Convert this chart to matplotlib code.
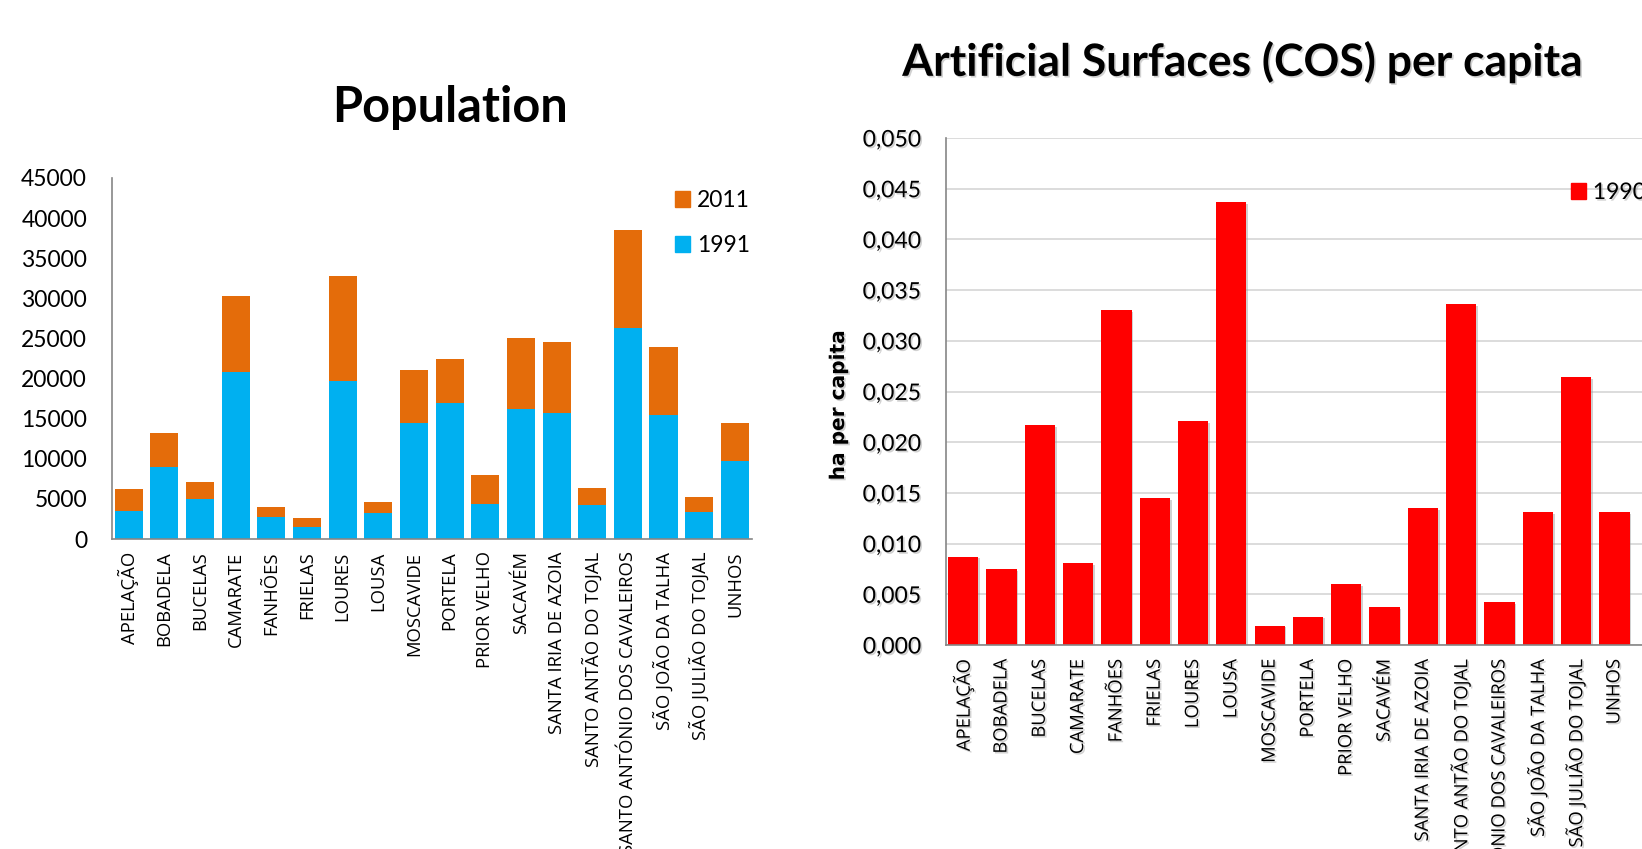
import numpy as np
import matplotlib
matplotlib.use("Agg")
import matplotlib.pyplot as plt
import matplotlib.patheffects as pe
from matplotlib.patches import Patch
from matplotlib.ticker import FuncFormatter

parishes = [
    "APELAÇÃO", "BOBADELA", "BUCELAS", "CAMARATE", "FANHÕES", "FRIELAS",
    "LOURES", "LOUSA", "MOSCAVIDE", "PORTELA", "PRIOR VELHO", "SACAVÉM",
    "SANTA IRIA DE AZOIA", "SANTO ANTÃO DO TOJAL",
    "SANTO ANTÓNIO DOS CAVALEIROS", "SÃO JOÃO DA TALHA",
    "SÃO JULIÃO DO TOJAL", "UNHOS",
]

# population, stacked: 1991 at the bottom, 2011 on top
pop_1991 = [3450, 9000, 4950, 20850, 2700, 1550, 19650, 3200, 14450,
            16900, 4350, 16250, 15650, 4250, 26250, 15500, 3400, 9750]
pop_2011 = [2750, 4200, 2200, 9450, 1350, 1100, 13100, 1450, 6600,
            5500, 3600, 8750, 8850, 2050, 12300, 8400, 1850, 4750]

# artificial surfaces (COS 1990), ha per capita
cos_1990 = [0.0087, 0.0075, 0.0217, 0.0081, 0.0330, 0.0145, 0.0221,
            0.0437, 0.0019, 0.0028, 0.0060, 0.0037, 0.0135, 0.0336,
            0.0042, 0.0131, 0.0264, 0.0131]

pop_ticks = list(range(0, 45001, 5000))
cos_ticks = [i * 0.005 for i in range(11)]

ORANGE = "#E46C0A"
BLUE = "#00B0F0"
RED = "#FF0000"
AXIS = "#868686"

W, H = 1642, 849
fig = plt.figure(figsize=(W / 100, H / 100), dpi=100)
fig.patch.set_facecolor("white")


def px_axes(x0, y_top, x1, y_bot):
    return fig.add_axes([x0 / W, 1 - y_bot / H, (x1 - x0) / W, (y_bot - y_top) / H])


shadow = [pe.withSimplePatchShadow(offset=(1.2, -1.2), shadow_rgbFace="#9a9a9a", alpha=0.45)]
num_font = "Lato"
cat_font = "Open Sans"
num_size = 16.5
cat_size = 13.3
x = np.arange(len(parishes))

# ---- Population ----
ax1 = px_axes(112, 178, 752, 539)
ax1.bar(x, pop_1991, width=0.79, color=BLUE, zorder=2)
ax1.bar(x, pop_2011, width=0.79, bottom=pop_1991, color=ORANGE, zorder=2)
ax1.set_xlim(-0.47, 17.48)
ax1.set_ylim(0, 45000)
ax1.set_yticks(pop_ticks)
ax1.set_yticklabels([str(t) for t in pop_ticks], fontsize=num_size, family=num_font)
ax1.set_xticks(x)
ax1.set_xticklabels(parishes, rotation=90, fontsize=cat_size, family=cat_font, va="top")
ax1.tick_params(axis="y", length=0, pad=18)
ax1.tick_params(axis="x", length=0, pad=9)
for s in ["top", "right"]:
    ax1.spines[s].set_visible(False)
for s in ["left", "bottom"]:
    ax1.spines[s].set_color(AXIS)
    ax1.spines[s].set_linewidth(1.2)
fig.text(450 / W, 1 - 108 / H, "Population", ha="center", va="center",
         fontsize=35, fontweight="bold", family=num_font)
fig.legend(handles=[Patch(color=ORANGE, label="2011"), Patch(color=BLUE, label="1991")],
           loc="upper left", bbox_to_anchor=(675 / W, 1 - 190 / H), frameon=False,
           prop={"family": num_font, "size": num_size}, handlelength=0.65, handleheight=0.65,
           handletextpad=0.3, labelspacing=1.05, borderpad=0, borderaxespad=0)

# ---- Artificial surfaces per capita ----
ax2 = px_axes(945.6, 138, 1660, 645)
ax2.bar(x, cos_1990, width=0.79, color=RED, zorder=2, path_effects=shadow)
ax2.set_xlim(-0.46, 18.19)
ax2.set_ylim(0, 0.050)
ax2.set_yticks(cos_ticks)
ax2.yaxis.set_major_formatter(FuncFormatter(lambda v, p: f"{v:.3f}".replace(".", ",")))
ax2.grid(axis="y", color="#D9D9D9", linewidth=1.3, zorder=0)
ax2.set_xticks(x)
ax2.set_xticklabels(parishes, rotation=90, fontsize=cat_size, family=cat_font, va="top")
for lab in ax2.get_yticklabels():
    lab.set_family(num_font)
    lab.set_fontsize(num_size)
for lab in ax2.get_yticklabels() + ax2.get_xticklabels():
    lab.set_path_effects(shadow)
ax2.tick_params(axis="y", length=0, pad=18)
ax2.tick_params(axis="x", length=0, pad=10)
for s in ["top", "right"]:
    ax2.spines[s].set_visible(False)
for s in ["left", "bottom"]:
    ax2.spines[s].set_color(AXIS)
    ax2.spines[s].set_linewidth(1.2)
ax2.set_ylabel("ha per capita", fontsize=14.5, fontweight="bold", family="DejaVu Sans")
ax2.yaxis.set_label_coords((848 - 945.6) / (1660 - 945.6), (645 - 405) / 507)
ax2.yaxis.label.set_path_effects(shadow)
fig.text(1243 / W, 1 - 62 / H, "Artificial Surfaces (COS) per capita", ha="center",
         va="center", fontsize=32, fontweight="bold", family=num_font, path_effects=shadow)
leg2 = fig.legend(handles=[Patch(color=RED, label="1990")], loc="upper left",
                  bbox_to_anchor=(1571 / W, 1 - 182 / H), frameon=False,
                  prop={"family": num_font, "size": num_size}, handlelength=0.65,
                  handleheight=0.65, handletextpad=0.3, borderpad=0, borderaxespad=0)
for t in leg2.get_texts():
    t.set_path_effects(shadow)

fig.savefig("out.png", dpi=100)
